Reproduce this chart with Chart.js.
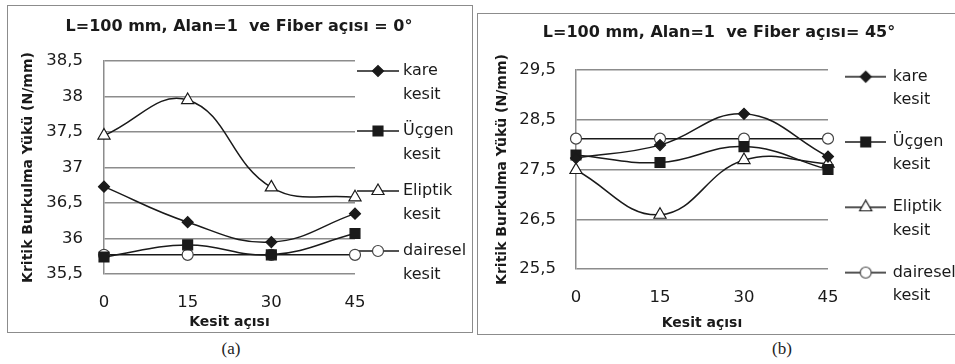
<!DOCTYPE html>
<html lang="tr">
<head>
<meta charset="UTF-8">
<title>Kritik Burkulma Yükü</title>
<script src="https://cdn.jsdelivr.net/npm/chart.js"></script>
<style>
    body { margin: 0; background: #fff; width: 955px; height: 364px; overflow: hidden; position: relative; }
    .box { position: absolute; border: 1px solid #8c8c8c; box-sizing: border-box; background: #fff; }
    #boxA { left: 7px; top: 5px; width: 466px; height: 328px; }
    #boxB { left: 477px; top: 13px; width: 480px; height: 322px; }
    canvas { display: block; }
    .cap { position: absolute; top: 339px; width: 60px; text-align: center;
           font-family: 'Liberation Serif', serif; font-size: 17px; color: #222; }
</style>
</head>
<body>
<div class="box" id="boxA"><canvas id="chartA" width="464" height="326"></canvas></div>
<div class="box" id="boxB"><canvas id="chartB" width="478" height="320"></canvas></div>
<div class="cap" style="left:201px">(a)</div>
<div class="cap" style="left:752px">(b)</div>
<script>
// veriler
const categories = ['0', '15', '30', '45'];
const seriesNames = [['kare', 'kesit'], ['Üçgen', 'kesit'], ['Eliptik', 'kesit'], ['dairesel', 'kesit']];

// Fiber açısı = 0°
const kareA = [36.73, 36.23, 35.95, 36.35];
const ucgenA = [35.74, 35.91, 35.77, 36.07];
const eliptikA = [37.45, 37.95, 36.72, 36.58];
const daireselA = [35.77, 35.77, 35.77, 35.77];
const yAxisA = { min: 35.5, max: 38.5, step: 0.5 };

// Fiber açısı = 45°
const kareB = [27.73, 27.99, 28.62, 27.76];
const ucgenB = [27.79, 27.64, 27.96, 27.5];
const eliptikB = [27.49, 26.59, 27.69, 27.62];
const daireselB = [28.12, 28.12, 28.12, 28.12];
const yAxisB = { min: 25.5, max: 29.5, step: 1 };

const LINE = '#1a1a1a';
const GRID = '#8c8c8c';
const TEXT = '#1a1a1a';
const FONT = 'DejaVu Sans';
const markers = [
    { pointStyle: 'rectRot', radius: 5.5, fill: LINE, stroke: LINE },
    { pointStyle: 'rect', radius: 7, fill: LINE, stroke: LINE },
    { pointStyle: 'triangle', radius: 7, fill: '#fff', stroke: LINE },
    { pointStyle: 'circle', radius: 5.5, fill: '#fff', stroke: '#444' }
];

// lejant simgesi: çizgi + işaret
function legendIcon(m, w, len) {
    const c = document.createElement('canvas');
    c.width = w;
    c.height = 16;
    const g = c.getContext('2d');
    g.strokeStyle = LINE;
    g.lineWidth = 1.5;
    g.beginPath();
    g.moveTo(0, 8);
    g.lineTo(len, 8);
    g.stroke();
    g.fillStyle = m.fill;
    g.strokeStyle = m.stroke;
    g.lineWidth = 1.2;
    Chart.helpers.drawPoint(g, { pointStyle: m.pointStyle, radius: m.radius, rotation: 0, borderWidth: 1.2 }, len / 2, 8);
    return c;
}

function buildChart(id, cfg) {
    const icons = markers.map(m => legendIcon(m, cfg.iconW, cfg.lineLen));
    return new Chart(document.getElementById(id), {
        type: 'line',
        data: {
            labels: categories,
            datasets: cfg.series.map((values, i) => ({
                label: seriesNames[i].join(' '),
                data: values,
                borderColor: LINE,
                borderWidth: 1.5,
                tension: 0.42,
                fill: false,
                pointStyle: markers[i].pointStyle,
                pointRadius: markers[i].radius,
                pointBackgroundColor: markers[i].fill,
                pointBorderColor: markers[i].stroke,
                pointBorderWidth: 1.2
            }))
        },
        options: {
            responsive: false,
            animation: false,
            devicePixelRatio: 1,
            layout: { padding: cfg.padding },
            scales: {
                x: {
                    offset: false,
                    // tickLength yalnızca etiketleri aşağı itmek için
                    grid: { display: false, drawTicks: true, tickLength: cfg.xTickGap },
                    border: { display: false },
                    ticks: { color: TEXT, padding: 0, font: { family: FONT, size: 16.5, lineHeight: 1.2 } },
                    title: {
                        display: true, text: 'Kesit açısı', color: TEXT,
                        padding: { top: cfg.xTitlePad, bottom: 0 },
                        font: { family: FONT, size: 14, weight: 'bold', lineHeight: 1.2 }
                    }
                },
                y: {
                    min: cfg.yAxis.min,
                    max: cfg.yAxis.max,
                    afterFit: scale => { scale.width = cfg.yWidth; },
                    ticks: {
                        stepSize: cfg.yAxis.step,
                        color: TEXT,
                        padding: cfg.yTickPad,
                        font: { family: FONT, size: 16.5, lineHeight: 1.2 },
                        callback: v => String(v).replace('.', ',')
                    },
                    grid: { color: GRID, lineWidth: 1.5, drawTicks: false },
                    border: { display: true, color: GRID, width: 1.5 },
                    title: {
                        display: true, text: 'Kritik Burkulma Yükü (N/mm)', color: TEXT,
                        padding: { top: cfg.yTitlePad, bottom: 0 },
                        font: { family: FONT, size: 14, weight: 'bold', lineHeight: 1.2 }
                    }
                }
            },
            plugins: {
                title: {
                    display: true,
                    text: cfg.title,
                    color: TEXT,
                    padding: cfg.titlePad,
                    font: { family: FONT, size: 16, weight: 'bold', lineHeight: 1.2 }
                },
                legend: {
                    position: 'right',
                    align: 'start',
                    maxWidth: cfg.legendW,
                    title: { display: true, text: '', padding: { top: cfg.legendTop, bottom: 0 }, font: { size: 1, lineHeight: 1 } },
                    labels: {
                        usePointStyle: true,
                        pointStyleWidth: cfg.boxW,
                        padding: cfg.legendPad,
                        color: TEXT,
                        font: { family: FONT, size: 16, lineHeight: cfg.legendLH },
                        generateLabels: chart => chart.data.datasets.map((ds, i) => ({
                            text: seriesNames[i],
                            pointStyle: icons[i],
                            datasetIndex: i,
                            hidden: false,
                            fillStyle: 'transparent',
                            strokeStyle: 'transparent',
                            lineWidth: 0,
                            fontColor: TEXT
                        }))
                    }
                },
                tooltip: { enabled: false }
            }
        }
    });
}

buildChart('chartA', {
    title: 'L=100 mm, Alan=1  ve Fiber açısı = 0°',
    series: [kareA, ucgenA, eliptikA, daireselA],
    yAxis: yAxisA,
    padding: { top: 5, left: 4, right: 6, bottom: 1.6 },
    titlePad: { top: 6.4, bottom: 24.4 },
    yWidth: 92, yTickPad: 21, yTitlePad: 7.6,
    xTickGap: 19.1, xTitlePad: 0.7,
    iconW: 48, lineLen: 42, boxW: 28,
    legendW: 111, legendPad: 12, legendLH: 24 / 16, legendTop: 39
});

buildChart('chartB', {
    title: 'L=100 mm, Alan=1  ve Fiber açısı= 45°',
    series: [kareB, ucgenB, eliptikB, daireselB],
    yAxis: yAxisB,
    padding: { top: 4, left: 4, right: 0, bottom: 2.6 },
    titlePad: { top: 5.4, bottom: 27.4 },
    yWidth: 94, yTickPad: 20, yTitlePad: 11.6,
    xTickGap: 18.8, xTitlePad: 7,
    iconW: 41, lineLen: 41, boxW: 38,
    legendW: 128, legendPad: 18.7, legendLH: 23.3 / 16, legendTop: 31
});
</script>
</body>
</html>
